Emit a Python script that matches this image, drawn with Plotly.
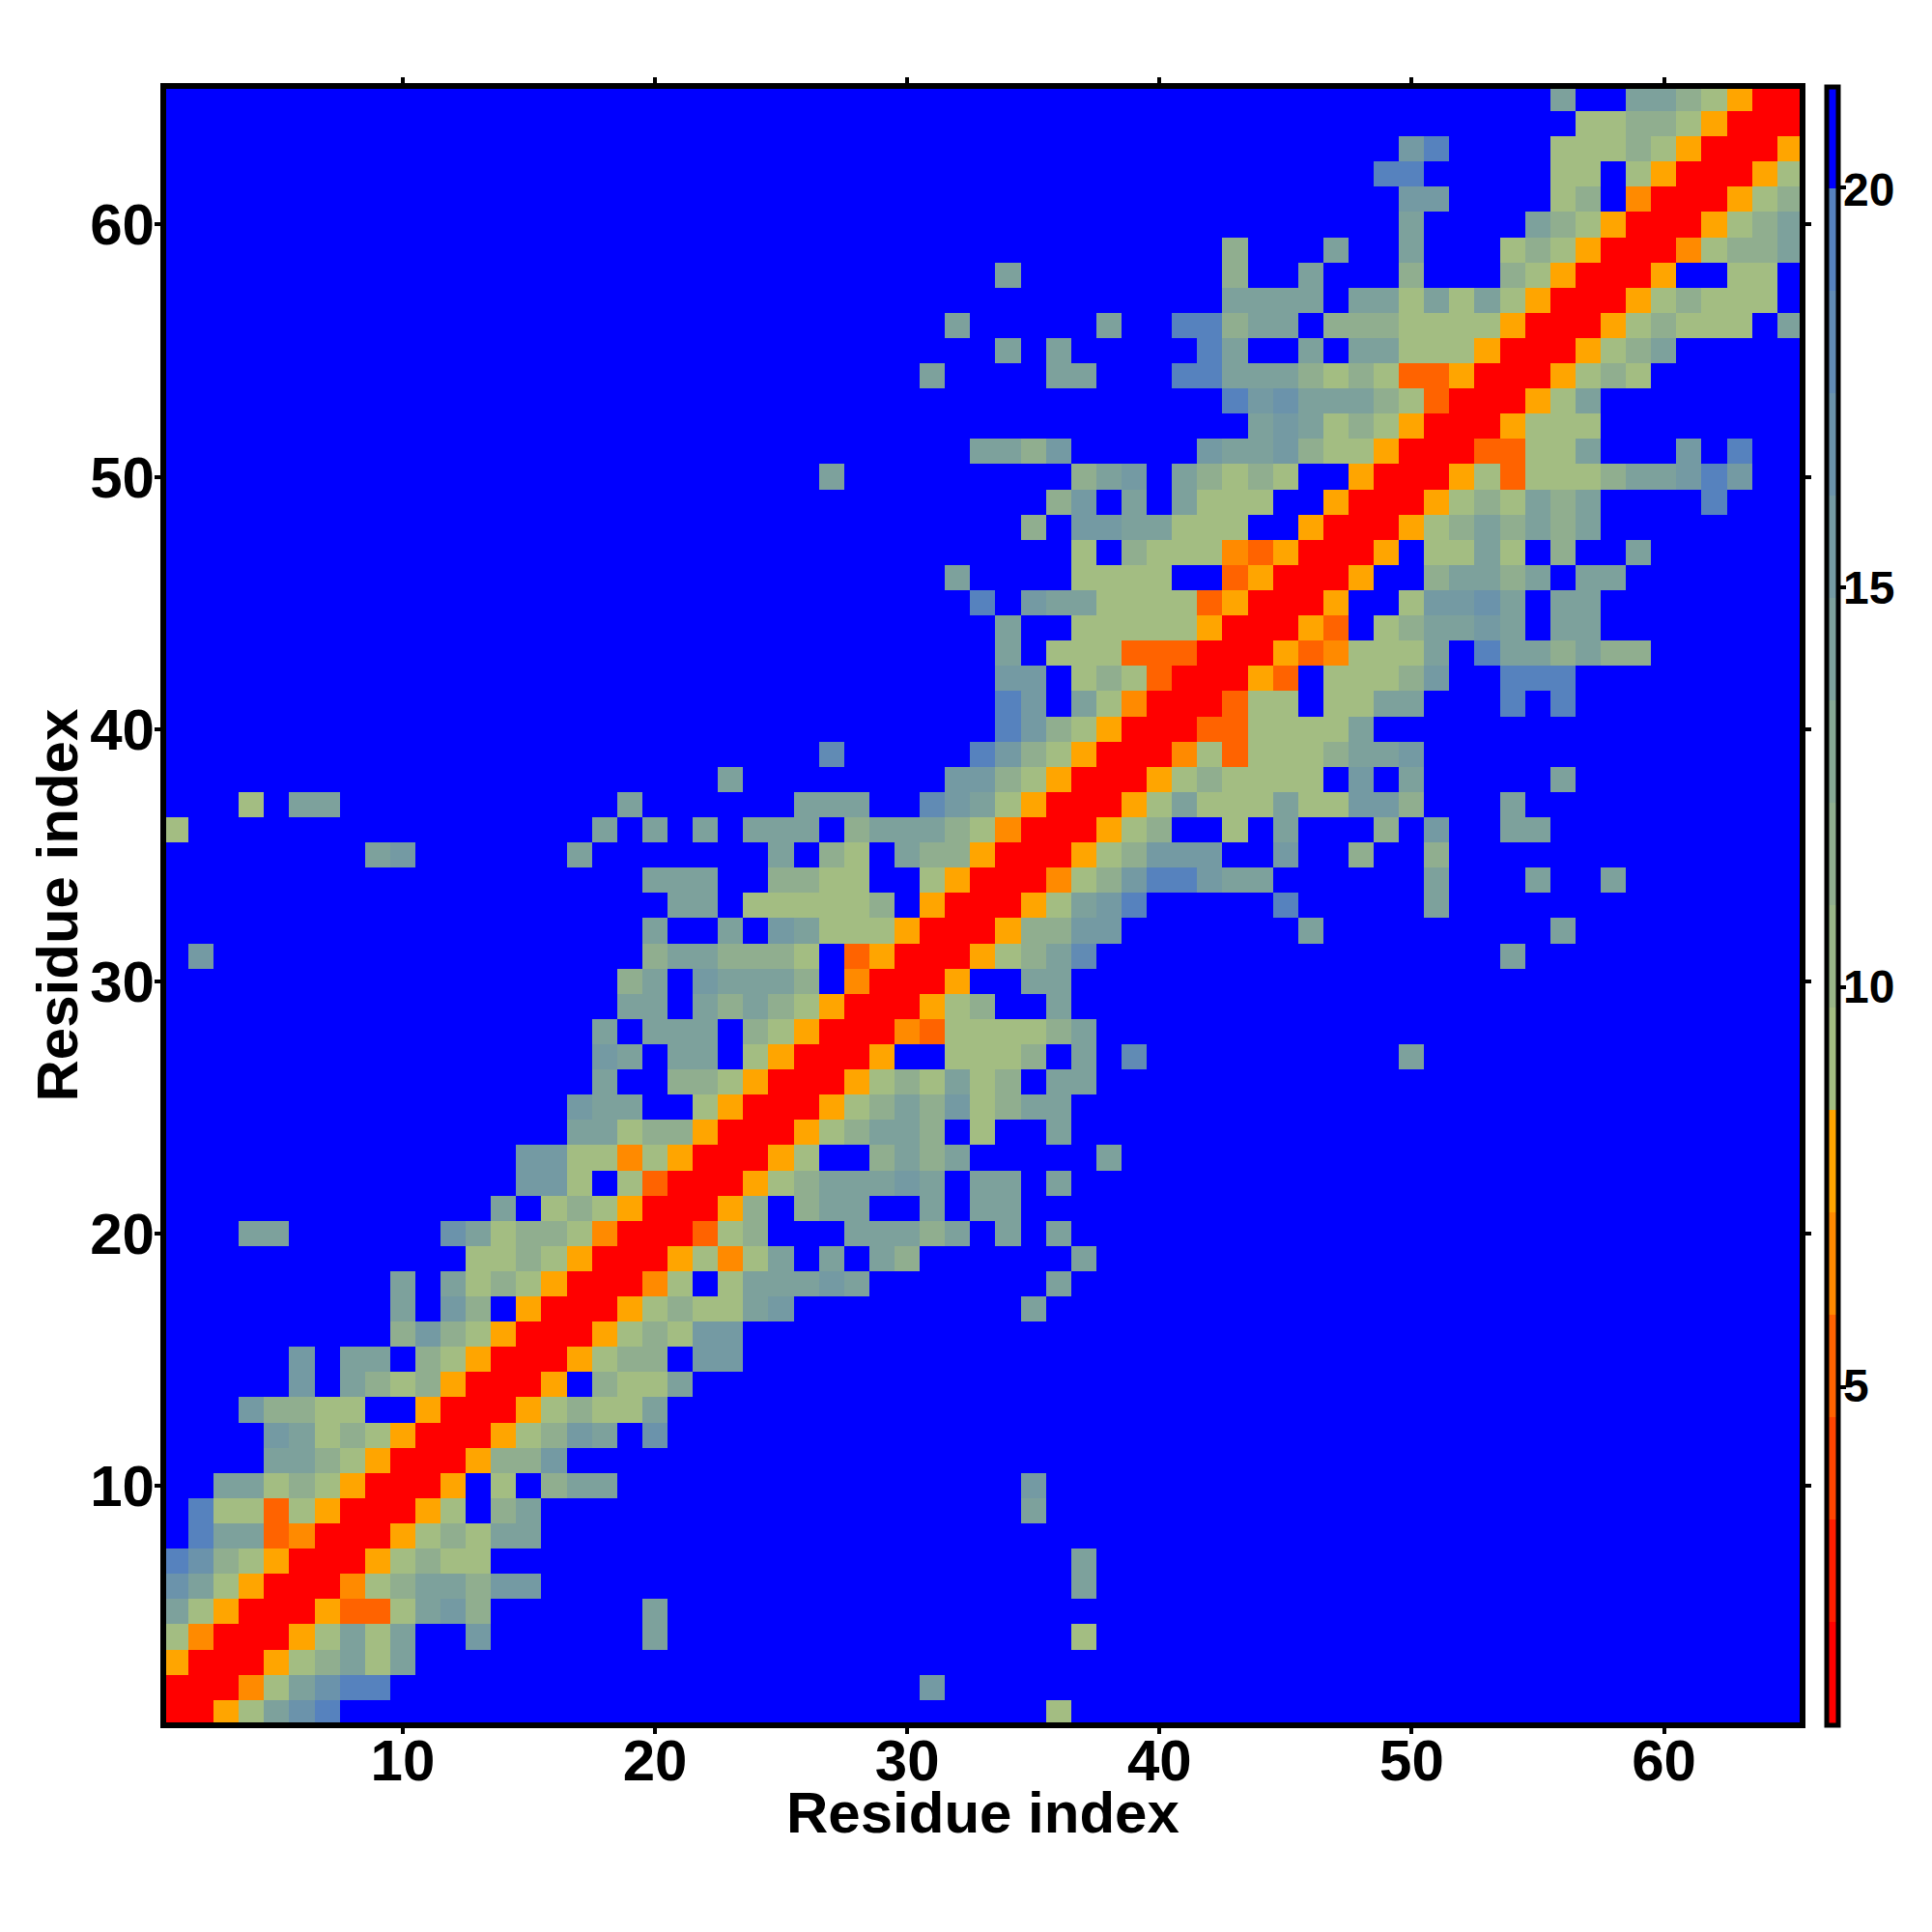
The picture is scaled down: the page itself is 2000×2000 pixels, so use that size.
import plotly.graph_objects as go

# Distance classes (value at the middle of a colour band)
R, D, N, O = 1.4, 5.3, 6.5, 7.8
G, S, T, U, B, M, K, X = 9.1, 11.7, 14.2, 15.5, 16.8, 18.0, 19.3, 21.0

residues = list(range(1, 65 + 1))
band_edges = [0.78 + 1.28 * i for i in range(17)]
band_colors = ["#FF0000", "#FF1E00", "#FF4500", "#FF6300", "#FF8A00", "#FFA500",
               "#A3BD82", "#99B688", "#90AE8F", "#87A895", "#7DA19C", "#749AA3",
               "#6B93AB", "#618BB4", "#5682BE", "#0000FF"]
tick_vals = [10, 20, 30, 40, 50, 60]
bar_ticks = [5, 10, 15, 20]
axis_label = "Residue index"

# Upper triangle of the symmetric map: row -> [(first column, values from that column)]
upper = {
    1: [(2, [R, O, G, T, B, K]), (36, [G])],
    2: [(3, [R, N, G, T, B, K, K]), (31, [U])],
    3: [(4, [R, O, G, S, T, G, T])],
    4: [(5, [R, O, G, T, G, T]), (13, [U]), (20, [T]), (37, [G])],
    5: [(6, [R, O, D, D, G, T, U, S]), (20, [T])],
    6: [(7, [R, N, G, S, T, T, S, U, U]), (37, [T])],
    7: [(8, [R, O, G, S, G, G]), (37, [T])],
    8: [(9, [R, O, G, S, G, T, T])],
    9: [(10, [R, O, G, X, S, T]), (35, [T])],
    10: [(11, [R, O, X, G, X, S, T, T]), (35, [U])],
    11: [(12, [R, O, S, S, U])],
    12: [(13, [R, O, G, S, U, T, X, B])],
    13: [(14, [R, O, G, S, G, G, T])],
    14: [(15, [R, O, X, S, G, G, T])],
    15: [(16, [R, O, G, S, S, X, U, U])],
    16: [(17, [R, O, G, S, G, U, U])],
    17: [(18, [R, O, G, S, G, G, T, U]), (35, [T])],
    18: [(19, [R, N, G, X, G, T, T, T, U, T]), (36, [T])],
    19: [(20, [R, O, G, N, G, T, X, T, X, T, S]), (37, [T])],
    20: [(21, [R, D, G, S, X, X, X, T, T, T, S, T, X, T, X, T])],
    21: [(22, [R, O, S, X, S, T, T, X, X, T, X, T, T])],
    22: [(23, [R, O, G, S, T, T, T, U, T, X, T, T, X, T])],
    23: [(24, [R, O, G, X, X, S, T, S, T]), (38, [T])],
    24: [(25, [R, O, G, S, T, T, S, X, G]), (36, [T])],
    25: [(26, [R, O, G, S, T, S, U, G, S, T, T])],
    26: [(27, [R, O, G, S, G, T, G, S, X, T, T])],
    27: [(28, [R, O, X, X, G, G, G, S, X, T]), (39, [M]), (50, [T])],
    28: [(29, [R, N, D, G, G, G, G, S, T])],
    29: [(30, [R, O, G, S, X, X, T])],
    30: [(31, [R, O, X, X, T, T])],
    31: [(32, [R, O, G, S, T, M]), (54, [T])],
    32: [(33, [R, O, S, S, U, U]), (46, [T]), (56, [T])],
    33: [(34, [R, O, G, T, U, K]), (45, [K]), (51, [T])],
    34: [(35, [R, N, G, S, U, K, K, U, T, T]), (51, [T]), (55, [T]), (58, [T])],
    35: [(36, [R, O, G, S, U, U, U]), (45, [U]), (48, [S]), (51, [S])],
    36: [(37, [R, O, G, S, X, X, G, X, T]), (49, [S]), (51, [U]), (54, [T, T])],
    37: [(38, [R, O, G, T, G, G, G, T, G, G, U, U, S]), (54, [T])],
    38: [(39, [R, O, G, S, G, G, G, G, X, U, X, T]), (56, [T])],
    39: [(40, [R, N, G, D, G, G, G, S, T, T, U])],
    40: [(41, [R, D, D, G, G, G, G, T])],
    41: [(42, [R, D, G, G, X, G, G, T, T]), (54, [K]), (56, [K])],
    42: [(43, [R, O, D, X, G, G, G, S, U]), (54, [K, K, K])],
    43: [(44, [R, O, D, N, G, G, G, T, X, K, T, T, S, T, S, S])],
    44: [(45, [R, O, D, X, G, S, T, T, U, T, X, T, T])],
    45: [(46, [R, O, X, X, G, U, U, B, T, X, T, T])],
    46: [(47, [R, O, X, X, S, T, T, S, T, X, T, T])],
    47: [(48, [R, O, X, G, G, T, G, X, S, X, X, T])],
    48: [(49, [R, O, G, S, T, S, T, S, T])],
    49: [(50, [R, O, G, S, G, T, S, T]), (62, [K])],
    50: [(51, [R, O, G, D, G, G, G, S, T, T, U, K, U])],
    51: [(52, [R, D, D, G, G, T]), (61, [U]), (63, [K])],
    52: [(53, [R, O, G, G, G])],
    53: [(54, [R, O, G, T])],
    54: [(55, [R, O, G, S, G])],
    55: [(56, [R, O, G, S, T])],
    56: [(57, [R, O, G, S, G, G, G, X, T])],
    57: [(58, [R, O, G, S, G, G, G])],
    58: [(59, [R, O, X, X, G, G])],
    59: [(60, [R, N, G, S, S, T])],
    60: [(61, [R, O, G, S, T])],
    61: [(62, [R, O, G, S])],
    62: [(63, [R, O, G])],
    63: [(64, [R, O])],
    64: [(65, [R])],
}

z = [[X for _ in residues] for _ in residues]
for i in residues:
    z[i - 1][i - 1] = R
for row, segments in upper.items():
    for first, values in segments:
        for offset, value in enumerate(values):
            col = first + offset
            z[row - 1][col - 1] = value
            z[col - 1][row - 1] = value

lo, hi = band_edges[0], band_edges[-1]
colorscale = []
for i, color in enumerate(band_colors):
    colorscale.append([(band_edges[i] - lo) / (hi - lo), color])
    colorscale.append([(band_edges[i + 1] - lo) / (hi - lo), color])

# Page offset of 8 px (body margin) is taken out of the margins
PAGE = 8
PLOT_L, PLOT_R, PLOT_T, PLOT_B = 172 - PAGE, 1863 - PAGE, 92 - PAGE, 1783 - PAGE
SIZE = PLOT_R - PLOT_L
FONT = "Liberation Sans"

fig = go.Figure(go.Heatmap(
    x=residues, y=residues, z=z, zmin=lo, zmax=hi, colorscale=colorscale, zsmooth=False,
    colorbar=dict(
        thickness=12, thicknessmode="pixels", len=(SIZE + 5) / SIZE, lenmode="fraction",
        x=(1890.5 - PAGE - PLOT_L) / SIZE, xanchor="left", xpad=0,
        y=-2.5 / SIZE, yanchor="bottom", ypad=0,
        outlinecolor="black", outlinewidth=5,
        tickmode="array", tickvals=bar_ticks, ticks="outside", ticklen=6, tickwidth=4,
        tickcolor="black", showticklabels=False,
    ),
))

axis_common = dict(
    range=[0.62, 65.38], tickmode="array", tickvals=tick_vals,
    ticks="outside", ticklen=6, tickwidth=4, tickcolor="black",
    showline=True, linecolor="black", linewidth=6, mirror="allticks",
    showgrid=False, zeroline=False,
    tickfont=dict(family=FONT, size=60, color="black", weight="bold"),
)
fig.update_xaxes(**axis_common, ticklabelstandoff=-24)
fig.update_yaxes(**axis_common, ticklabelstandoff=-12)

title_font = dict(family=FONT, size=60, color="black", weight="bold")
fig.add_annotation(text=axis_label, xref="paper", yref="paper", x=0.5, y=0,
                   xanchor="center", yanchor="top", yshift=-58, showarrow=False, font=title_font)
fig.add_annotation(text=axis_label, xref="paper", yref="paper", x=0, y=0.5, textangle=-90,
                   xanchor="center", yanchor="middle", xshift=-113, showarrow=False, font=title_font)
for value in bar_ticks:
    fig.add_annotation(text=str(value), xref="paper", yref="paper",
                       x=(1906.5 - PAGE - PLOT_L) / SIZE, y=(value - lo) / (hi - lo),
                       xanchor="left", yanchor="middle", showarrow=False, borderpad=0,
                       font=dict(family=FONT, size=48, color="black", weight="bold"))

fig.update_layout(
    width=2000, height=2000, autosize=False,
    margin=dict(l=PLOT_L, r=2000 - PLOT_R, t=PLOT_T, b=2000 - PLOT_B, pad=0),
    paper_bgcolor="white", plot_bgcolor="white", showlegend=False,
)
fig.write_html("out.html")
